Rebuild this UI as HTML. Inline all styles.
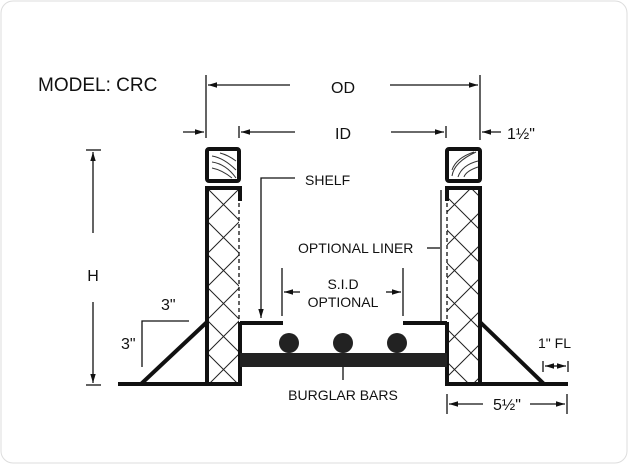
<!DOCTYPE html>
<html><head><style>
html,body{margin:0;padding:0;background:#fff;}
svg{display:block;}
text{font-family:"Liberation Sans",Arial,sans-serif;fill:#111;}
</style></head><body>
<svg width="628" height="464" viewBox="0 0 628 464" xmlns="http://www.w3.org/2000/svg">
<defs>
<pattern id="x" x="207" y="188" width="33" height="33" patternUnits="userSpaceOnUse">
<path d="M0 0L33 33M33 0L0 33" stroke="#222" stroke-width="1"/>
</pattern>
<marker id="a" viewBox="0 0 10 10" refX="10" refY="5" markerWidth="7" markerHeight="7" orient="auto-start-reverse"><path d="M0 2L10 5L0 8z" fill="#111"/></marker>
</defs>
<rect x="1" y="1" width="626" height="462" rx="12" fill="#fff" stroke="#ddd"/>
<text x="38" y="91" font-size="19">MODEL: CRC</text>
<!-- OD -->
<line x1="206" y1="75" x2="206" y2="138" stroke="#111" stroke-width="1.3"/>
<line x1="480" y1="75" x2="480" y2="140" stroke="#111" stroke-width="1.3"/>
<line x1="290" y1="85" x2="208" y2="85" stroke="#111" stroke-width="1.3" marker-end="url(#a)"/>
<line x1="390" y1="85" x2="478" y2="85" stroke="#111" stroke-width="1.3" marker-end="url(#a)"/>
<text x="343" y="93" font-size="16" text-anchor="middle">OD</text>
<!-- ID -->
<line x1="239" y1="126" x2="239" y2="138" stroke="#111" stroke-width="1.3"/>
<line x1="446" y1="126" x2="446" y2="138" stroke="#111" stroke-width="1.3"/>
<line x1="295" y1="132" x2="241" y2="132" stroke="#111" stroke-width="1.3" marker-end="url(#a)"/>
<line x1="391" y1="132" x2="444" y2="132" stroke="#111" stroke-width="1.3" marker-end="url(#a)"/>
<text x="343" y="139" font-size="16" text-anchor="middle">ID</text>
<line x1="183" y1="132" x2="204" y2="132" stroke="#111" stroke-width="1.3" marker-end="url(#a)"/>
<line x1="501" y1="132" x2="482" y2="132" stroke="#111" stroke-width="1.3" marker-end="url(#a)"/>
<text x="507" y="139" font-size="16">1½"</text>
<!-- H -->
<line x1="86" y1="150" x2="101" y2="150" stroke="#111" stroke-width="1.3"/>
<line x1="86" y1="385" x2="101" y2="385" stroke="#111" stroke-width="1.3"/>
<line x1="93" y1="233" x2="93" y2="152" stroke="#111" stroke-width="1.3" marker-end="url(#a)"/>
<line x1="93" y1="302" x2="93" y2="383" stroke="#111" stroke-width="1.3" marker-end="url(#a)"/>
<text x="93" y="281" font-size="16" text-anchor="middle">H</text>
<!-- caps -->
<rect x="207" y="149" width="32" height="32" fill="none" stroke="#111" stroke-width="4" rx="2"/>
<path d="M212 156q12 2 24 14M212 162q14 2 24 16M212 168q10 2 20 10M220 153q8 2 16 8" fill="none" stroke="#333" stroke-width="1"/>
<rect x="447" y="149" width="33" height="32" fill="none" stroke="#111" stroke-width="4" rx="2"/>
<path d="M452 176q2 -14 24 -24M452 170q4 -12 22 -18M458 177q4 -12 20 -16M464 177q2 -6 14 -10" fill="none" stroke="#333" stroke-width="1"/>
<!-- walls -->
<rect x="207" y="189" width="32" height="195" fill="url(#x)"/>
<rect x="447" y="189" width="33" height="195" fill="url(#x)"/>
<path d="M240 201V188H207V384H240V322" fill="none" stroke="#111" stroke-width="4"/>
<line x1="239" y1="203" x2="239" y2="320" stroke="#111" stroke-width="1.3" stroke-dasharray="4,3"/>
<path d="M447 201V188H480V384H447V322" fill="none" stroke="#111" stroke-width="4"/>
<line x1="447" y1="203" x2="447" y2="320" stroke="#111" stroke-width="1.3" stroke-dasharray="4,3"/>
<line x1="441" y1="190" x2="441" y2="322" stroke="#111" stroke-width="1.3"/>
<!-- ground + braces -->
<line x1="118" y1="384" x2="240" y2="384" stroke="#111" stroke-width="4"/>
<line x1="447" y1="384" x2="568" y2="384" stroke="#111" stroke-width="4"/>
<line x1="141" y1="384" x2="207" y2="322" stroke="#111" stroke-width="4"/>
<line x1="480" y1="322" x2="544" y2="384" stroke="#111" stroke-width="4"/>
<path d="M142 367V321H189" fill="none" stroke="#111" stroke-width="1.3"/>
<text x="161" y="310" font-size="16">3"</text>
<text x="121" y="349" font-size="16">3"</text>
<!-- shelves -->
<line x1="240" y1="323" x2="283" y2="323" stroke="#111" stroke-width="4"/>
<line x1="403" y1="323" x2="447" y2="323" stroke="#111" stroke-width="4"/>
<path d="M295 178H261V318" fill="none" stroke="#111" stroke-width="1.3" marker-end="url(#a)"/>
<text x="305" y="185" font-size="14">SHELF</text>
<text x="298" y="253" font-size="14">OPTIONAL LINER</text>
<line x1="427" y1="248" x2="440" y2="248" stroke="#111" stroke-width="1.3"/>
<!-- SID -->
<line x1="282" y1="268" x2="282" y2="316" stroke="#111" stroke-width="1.3"/>
<line x1="403" y1="268" x2="403" y2="316" stroke="#111" stroke-width="1.3"/>
<line x1="300" y1="292" x2="284" y2="292" stroke="#111" stroke-width="1.3" marker-end="url(#a)"/>
<line x1="386" y1="292" x2="401" y2="292" stroke="#111" stroke-width="1.3" marker-end="url(#a)"/>
<text x="343" y="289" font-size="14" text-anchor="middle">S.I.D</text>
<text x="343" y="307" font-size="14" text-anchor="middle">OPTIONAL</text>
<!-- bars -->
<rect x="240" y="353" width="207" height="14" fill="#222"/>
<circle cx="289" cy="343" r="10" fill="#222"/>
<circle cx="343" cy="343" r="10" fill="#222"/>
<circle cx="397" cy="343" r="10" fill="#222"/>
<line x1="343" y1="367" x2="343" y2="380" stroke="#111" stroke-width="1.3"/>
<text x="343" y="400" font-size="14" text-anchor="middle">BURGLAR BARS</text>
<!-- 1" FL -->
<text x="538" y="348" font-size="14">1" FL</text>
<line x1="543" y1="361" x2="543" y2="372" stroke="#111" stroke-width="1.3"/>
<line x1="568" y1="361" x2="568" y2="372" stroke="#111" stroke-width="1.3"/>
<line x1="555" y1="366" x2="545" y2="366" stroke="#111" stroke-width="1.3" marker-end="url(#a)"/>
<line x1="555" y1="366" x2="566" y2="366" stroke="#111" stroke-width="1.3" marker-end="url(#a)"/>
<!-- 5 1/2 -->
<line x1="447" y1="394" x2="447" y2="414" stroke="#111" stroke-width="1.3"/>
<line x1="567" y1="394" x2="567" y2="414" stroke="#111" stroke-width="1.3"/>
<line x1="483" y1="404" x2="449" y2="404" stroke="#111" stroke-width="1.3" marker-end="url(#a)"/>
<line x1="530" y1="404" x2="565" y2="404" stroke="#111" stroke-width="1.3" marker-end="url(#a)"/>
<text x="507" y="410" font-size="16" text-anchor="middle">5½"</text>
</svg>
</body></html>
